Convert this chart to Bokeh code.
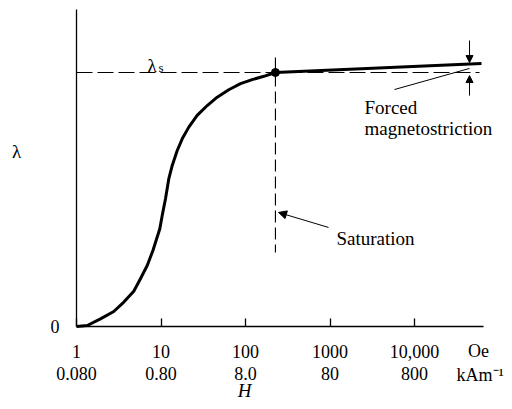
from bokeh.plotting import figure
from bokeh.models import FixedTicker, Label, Arrow, NormalHead, LogAxis, LinearAxis
from bokeh.embed import file_html
from bokeh.resources import INLINE

# --- data ---
H_oe = [1, 1.34, 1.92, 2.76, 3.63, 4.76, 5.71, 6.87, 8.04, 9.68, 10.33, 11.30, 12.36,
        13.58, 15.56, 17.82, 21.33, 26.79, 35.24, 46.24, 63.39, 87.30, 119.9, 164.8, 226, 62100]
lam = [0, 0.004, 0.030, 0.059, 0.096, 0.139, 0.188, 0.240, 0.300, 0.385, 0.437, 0.503, 0.581,
       0.634, 0.693, 0.739, 0.785, 0.831, 0.870, 0.903, 0.932, 0.956, 0.972, 0.985, 1.0, 1.035]
tick_oe = [1, 10, 100, 1000, 10000]
tick_oe_labels = ["1", "10", "100", "1000", "10,000"]
tick_kam_labels = ["0.080", "0.80", "8.0", "80", "800"]
lam_s = 1.0
H_sat = 226
H_end = 58800
H_max = 65600
lam_top = 1.248
H_forced = 44800

FONT = "Liberation Serif"
FS = "19px"
FS_TICK = "18px"

p = figure(width=504, height=401, x_axis_type="log",
           x_range=(0.126, 116200), y_range=(-0.2953, 1.2835),
           x_axis_location=None, y_axis_location=None,
           output_backend="svg", toolbar_location=None, title=None,
           min_border=0, min_border_left=0, min_border_right=0,
           min_border_top=0, min_border_bottom=0)
p.outline_line_color = None
p.xgrid.visible = False
p.ygrid.visible = False


def style_labels(ax):
    ax.major_label_text_font = FONT
    ax.major_label_text_font_size = FS_TICK
    ax.major_label_text_color = "black"


# x axis (Oe), drawn at lambda = 0
xa = LogAxis(fixed_location=0, bounds=(1, H_max))
xa.ticker = FixedTicker(ticks=tick_oe, minor_ticks=[])
xa.major_label_overrides = dict(zip(tick_oe, tick_oe_labels))
xa.major_tick_in = 8
xa.major_tick_out = 0
xa.major_tick_line_width = 1.3
xa.axis_line_width = 1.3
xa.major_label_standoff = 19
xa.axis_line_color = "black"
xa.major_tick_line_color = "black"
style_labels(xa)
p.add_layout(xa, "below")

# second row of tick labels (kA/m)
xa2 = LogAxis(fixed_location=0, bounds=(1, H_max))
xa2.ticker = FixedTicker(ticks=tick_oe, minor_ticks=[])
xa2.major_label_overrides = dict(zip(tick_oe, tick_kam_labels))
xa2.axis_line_color = None
xa2.major_tick_line_color = None
xa2.major_tick_in = 0
xa2.major_tick_out = 0
xa2.major_label_standoff = 41
style_labels(xa2)
p.add_layout(xa2, "below")

# y axis, drawn at H = 1
ya = LinearAxis(fixed_location=1, bounds=(0, lam_top))
ya.ticker = FixedTicker(ticks=[0], minor_ticks=[])
ya.major_tick_in = 0
ya.major_tick_out = 0
ya.axis_line_width = 1.3
ya.axis_line_color = "black"
ya.major_label_standoff = 17
style_labels(ya)
p.add_layout(ya, "left")

# curve
p.line(H_oe, lam, line_width=3, color="black", line_join="round")
p.scatter([H_sat], [lam_s], size=8, color="black")

# dashed saturation lines
p.line([1, H_end], [lam_s, lam_s], line_dash="16 5", line_width=1.1, color="black")
p.line([H_sat, H_sat], [1.059, 0.291], line_dash="12 5", line_width=1.1, color="black")

# forced magnetostriction arrows
p.add_layout(Arrow(end=NormalHead(size=7, fill_color="black", line_color="black"),
                   x_start=H_forced, y_start=1.126, x_end=H_forced, y_end=1.039, line_width=1))
p.add_layout(Arrow(end=NormalHead(size=7, fill_color="black", line_color="black"),
                   x_start=H_forced, y_start=0.909, x_end=H_forced, y_end=0.988, line_width=1))
p.line([5800, H_forced], [0.933, 1.016], line_width=1, color="black")

# saturation arrow
p.add_layout(Arrow(end=NormalHead(size=8, fill_color="black", line_color="black"),
                   x_start=960, y_start=0.390, x_end=246, y_end=0.449, line_width=1))


def lab(x, y, text, align="left", baseline="alphabetic", size=FS, style="normal"):
    p.add_layout(Label(x=x, y=y, text=text, text_font=FONT, text_font_size=size,
                       text_align=align, text_baseline=baseline, text_color="black",
                       text_font_style=style))


lab(2560, 0.862, "Forced")
lab(2560, 0.780, "magnetostriction")
lab(1194, 0.346, "Saturation")
lab(6.92, 1.028, "λ")
lab(9.34, 1.020, "s", size="13px")
lab(0.195, 0.689, "λ", align="center", baseline="middle")
lab(97.3, -0.293, "H", align="center", baseline="bottom", style="italic")
lab(57200, -0.098, "Oe", align="center", baseline="middle", size=FS_TICK)
lab(60000, -0.190, "kAm⁻¹", align="center", baseline="middle", size=FS_TICK)

open("out.html", "w").write(file_html(p, INLINE))
